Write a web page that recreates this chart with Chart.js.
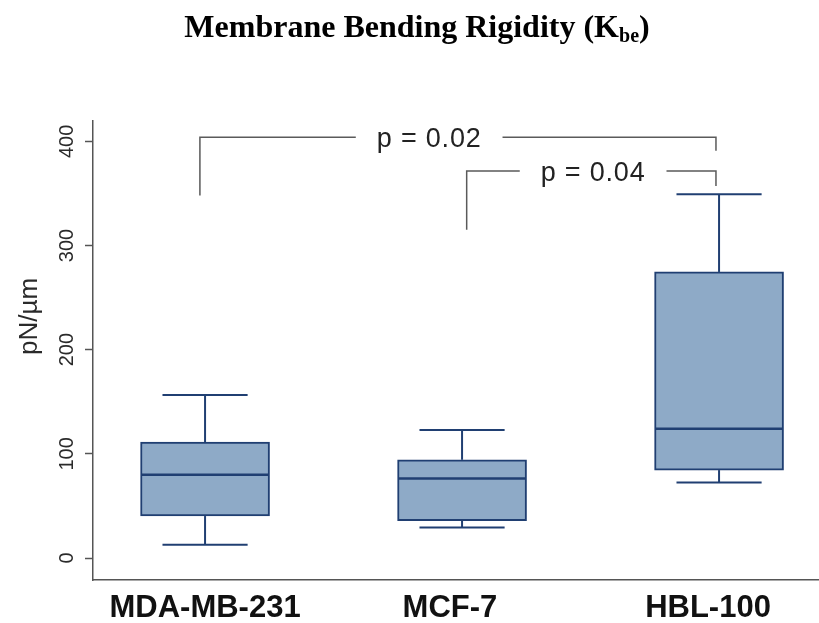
<!DOCTYPE html>
<html>
<head>
<meta charset="utf-8">
<title>Membrane Bending Rigidity</title>
<script src="https://cdn.jsdelivr.net/npm/chart.js@4.4.1/dist/chart.umd.min.js"></script>
<style>
  html, body { margin: 0; padding: 0; background: #fff; }
  #wrap { position: relative; width: 819px; height: 623px; }
</style>
</head>
<body>
<div id="wrap"><canvas id="kbeChart"></canvas></div>
<script>
// box plot summary per cell line (pN/µm)
const groups = ['MDA-MB-231', 'MCF-7', 'HBL-100'];
const whiskerLow = [12.8, 29.4, 72.6];
const q1 = [40.3, 35.8, 84.4];
const median = [79.9, 76.4, 124.0];
const q3 = [111.3, 94.3, 274.6];
const whiskerHigh = [156.4, 122.8, 349.2];
const yTicks = [0, 100, 200, 300, 400];
const pValues = ['p = 0.02', 'p = 0.04'];

// where the group names sit on the x axis (group units)
const labelAt = [1.0, 1.953, 2.957];

// significance brackets: x in group units, y in pN/µm
const brackets = [
  { text: pValues[0], left: 0.98, right: 2.988, level: 404, leftFoot: 348, rightFoot: 391, textAt: 1.872 },
  { text: pValues[1], left: 2.018, right: 2.988, level: 371.5, leftFoot: 315, rightFoot: 357, textAt: 2.51 }
];

const boxFill = '#8eaac7';
const boxLine = '#203f72';
const axisGrey = '#555';

const boxWhiskers = {
  id: 'boxWhiskers',
  afterDatasetsDraw(chart) {
    const { ctx, scales: { y } } = chart;
    const bars = chart.getDatasetMeta(0).data;
    const seg = (x1, y1, x2, y2) => {
      ctx.beginPath();
      ctx.moveTo(x1, y1);
      ctx.lineTo(x2, y2);
      ctx.stroke();
    };
    ctx.save();
    ctx.strokeStyle = boxLine;
    bars.forEach((bar, i) => {
      const cx = bar.x;
      const half = bar.width / 2;
      const cap = bar.width * 0.33;
      const yHi = y.getPixelForValue(whiskerHigh[i]);
      const yLo = y.getPixelForValue(whiskerLow[i]);
      ctx.lineWidth = 2;
      seg(cx, y.getPixelForValue(q3[i]), cx, yHi);
      seg(cx, y.getPixelForValue(q1[i]), cx, yLo);
      seg(cx - cap, yHi, cx + cap, yHi);
      seg(cx - cap, yLo, cx + cap, yLo);
      ctx.lineWidth = 2.5;
      const ym = y.getPixelForValue(median[i]);
      seg(cx - half + 1, ym, cx + half - 1, ym);
    });
    ctx.restore();
  }
};

const bracketLines = {
  id: 'bracketLines',
  afterDatasetsDraw(chart) {
    const { ctx, scales: { x, y } } = chart;
    ctx.save();
    ctx.font = '27px "Liberation Sans", Arial, sans-serif';
    if ('letterSpacing' in ctx) ctx.letterSpacing = '0.8px';
    ctx.textAlign = 'center';
    ctx.textBaseline = 'alphabetic';
    ctx.fillStyle = '#222';
    ctx.strokeStyle = '#5a5a5a';
    ctx.lineWidth = 1.5;
    brackets.forEach(b => {
      const xl = x.getPixelForValue(b.left);
      const xr = x.getPixelForValue(b.right);
      const xt = x.getPixelForValue(b.textAt);
      const yl = y.getPixelForValue(b.level);
      const w = ctx.measureText(b.text).width;
      const gap = 21;
      ctx.beginPath();
      ctx.moveTo(xl, y.getPixelForValue(b.leftFoot));
      ctx.lineTo(xl, yl);
      ctx.lineTo(xt - w / 2 - gap, yl);
      ctx.moveTo(xt + w / 2 + gap, yl);
      ctx.lineTo(xr, yl);
      ctx.lineTo(xr, y.getPixelForValue(b.rightFoot));
      ctx.stroke();
      ctx.fillText(b.text, xt, yl + 9.5);
    });
    ctx.restore();
  }
};

// chart title with subscript, and the rotated y axis title
const headings = {
  id: 'headings',
  afterDraw(chart) {
    const ctx = chart.ctx;
    const main = 'Membrane Bending Rigidity (K';
    const sub = 'be';
    const close = ')';
    const bigFont = 'bold 32px "Liberation Serif", "Times New Roman", serif';
    const subFont = 'bold 20px "Liberation Serif", "Times New Roman", serif';
    ctx.save();
    ctx.fillStyle = '#000';
    ctx.textAlign = 'left';
    ctx.textBaseline = 'alphabetic';
    ctx.font = bigFont;
    const w1 = ctx.measureText(main).width;
    const w3 = ctx.measureText(close).width;
    ctx.font = subFont;
    const w2 = ctx.measureText(sub).width;
    let tx = 417 - (w1 + w2 + w3) / 2;
    const base = 37;
    ctx.font = bigFont;
    ctx.fillText(main, tx, base);
    tx += w1;
    ctx.font = subFont;
    ctx.fillText(sub, tx, base + 5);
    tx += w2;
    ctx.font = bigFont;
    ctx.fillText(close, tx, base);

    ctx.translate(29.5, 316.5);
    ctx.rotate(-Math.PI / 2);
    ctx.textAlign = 'center';
    ctx.textBaseline = 'middle';
    ctx.fillStyle = '#2a2a2a';
    ctx.font = '26px "Liberation Sans", Arial, sans-serif';
    ctx.fillText('pN/µm', 0, 0);
    ctx.restore();
  }
};

new Chart(document.getElementById('kbeChart'), {
  type: 'bar',
  data: {
    datasets: [{
      data: groups.map((g, i) => ({ x: i + 1, y: [q1[i], q3[i]] })),
      backgroundColor: boxFill,
      borderColor: boxLine,
      borderWidth: 2,
      borderSkipped: false,
      barThickness: 129
    }]
  },
  options: {
    responsive: true,
    maintainAspectRatio: false,
    animation: false,
    layout: { padding: { top: 121, right: 1, left: 0, bottom: 0 } },
    plugins: {
      legend: { display: false },
      title: { display: false },
      tooltip: { enabled: false }
    },
    scales: {
      x: {
        type: 'linear',
        offset: false,
        min: 0.564,
        max: 3.385,
        grid: { display: false, drawTicks: false, offset: false },
        border: { display: true, color: axisGrey, width: 1.5 },
        afterBuildTicks(scale) { scale.ticks = labelAt.map(v => ({ value: v })); },
        afterFit(scale) { scale.height = 43; },
        ticks: {
          autoSkip: false,
          maxRotation: 0,
          padding: 10,
          color: '#111',
          font: { family: '"Liberation Sans", Arial, sans-serif', size: 31, weight: 'bold' },
          callback: (v, i) => groups[i]
        }
      },
      y: {
        min: -21.1,
        max: 419.5,
        afterBuildTicks(scale) { scale.ticks = yTicks.map(v => ({ value: v })); },
        afterFit(scale) { scale.width = 93; },
        grid: { drawOnChartArea: false, drawTicks: true, tickLength: 8, tickColor: axisGrey, tickWidth: 1.5 },
        border: { display: true, color: axisGrey, width: 1.5 },
        ticks: {
          minRotation: 90,
          maxRotation: 90,
          crossAlign: 'center',
          padding: 1,
          color: '#2a2a2a',
          font: { family: '"Liberation Sans Narrow", "Liberation Sans", Arial, sans-serif', size: 20 }
        }
      }
    }
  },
  plugins: [boxWhiskers, bracketLines, headings]
});
</script>
</body>
</html>
